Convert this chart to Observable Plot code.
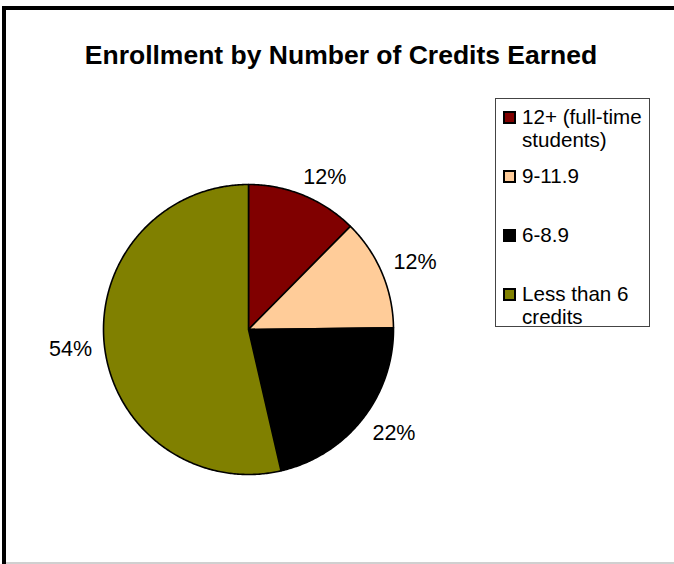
<!DOCTYPE html>
<html>
<head>
<meta charset="utf-8">
<script src="https://cdn.jsdelivr.net/npm/d3@7"></script>
<script src="https://cdn.jsdelivr.net/npm/@observablehq/plot@0.6"></script>
<style>
  html, body { margin: 0; padding: 0; background: #fff; }
  #wrap { position: relative; width: 674px; height: 564px; overflow: hidden; font-family: "Liberation Sans", Arial, sans-serif; }
  #frame { position: absolute; left: 2px; top: 6px; width: 800px; height: 800px; border-left: 4px solid #000; border-top: 4px solid #000; box-sizing: border-box; }
  #bottomline { position: absolute; left: 6px; top: 562px; width: 680px; height: 2px; background: #d0d0d0; }
  #title { position: absolute; left: 0; width: 682px; top: 40px; text-align: center; font-weight: bold; font-size: 26.5px; line-height: 30px; color: #000; }
  #legend { position: absolute; left: 495px; top: 98px; width: 155px; height: 229px; border: 1px solid #444; box-sizing: border-box; background: #fff; }
  .item { position: absolute; left: 0; width: 153px; height: 59px; }
  .sw { position: absolute; left: 7px; width: 9px; height: 9px; border: 2px solid #000; }
  .lab { position: absolute; left: 26px; top: 0; width: 127px; font-size: 20.6px; line-height: 23px; color: #000; }
  #plot { position: absolute; left: 0; top: 0; }
</style>
</head>
<body>
<div id="wrap">
  <div id="frame"></div>
  <div id="bottomline"></div>
  <div id="plot"></div>
  <div id="title"></div>
  <div id="legend"></div>
</div>
<script>
// ---- data ----
const categories = ["12+ (full-time students)", "9-11.9", "6-8.9", "Less than 6 credits"];
const shares = [12.4, 12.4, 21.6, 53.6];
const colors = ["#800000", "#FFCC99", "#000000", "#808000"];
const title = "Enrollment by Number of Credits Earned";

// ---- layout ----
const W = 674, H = 564;
const cx = 248, cy = 329, r = 145; // pie centre & radius (px)

const arcs = d3.pie().sort(null).value(d => d)(shares);

// polygon points for each slice in unit-circle coordinates
const poly = [];
arcs.forEach((a, i) => {
  const key = categories[i];
  poly.push({key, color: colors[i], x: 0, y: 0});
  const n = Math.max(8, Math.ceil((a.endAngle - a.startAngle) / 0.01));
  for (let k = 0; k <= n; k++) {
    const t = a.startAngle + (a.endAngle - a.startAngle) * k / n;
    poly.push({key, color: colors[i], x: Math.sin(t), y: Math.cos(t)});
  }
  poly.push({key, color: colors[i], x: 0, y: 0});
});

// data labels (outside end)
const clamp = v => Math.max(-1, Math.min(1, v));
const R = 157 / r, halfW = 22 / r, halfH = 7 / r;
const labels = arcs.map((a, i) => {
  const m = (a.startAngle + a.endAngle) / 2;
  const s = Math.sin(m), c = Math.cos(m);
  return {
    text: Math.round(shares[i]) + "%",
    x: R * s + halfW * clamp(2 * s),
    y: R * c + halfH * clamp(2 * c)
  };
});

const chart = Plot.plot({
  width: W,
  height: H,
  margin: 0,
  x: {domain: [-cx / r, (W - cx) / r], range: [0, W], axis: null},
  y: {domain: [cy / r, -(H - cy) / r], range: [0, H], axis: null},
  color: {type: "identity"},
  style: {background: "transparent", fontFamily: "'Liberation Sans', Arial, sans-serif"},
  marks: [
    Plot.line(poly, {x: "x", y: "y", z: "key", fill: "color", stroke: "#000", strokeWidth: 1.6, strokeLinejoin: "round", curve: "linear"}),
    Plot.text(labels, {x: "x", y: "y", text: "text", fontSize: 21.5, fill: "#000", textAnchor: "middle", lineAnchor: "middle"})
  ]
});
document.getElementById("plot").appendChild(chart);

document.getElementById("title").textContent = title;

const legend = document.getElementById("legend");
const itemTop = 6, itemStep = 59;
categories.forEach((cat, i) => {
  const it = document.createElement("div");
  it.className = "item";
  it.style.top = (itemTop + i * itemStep) + "px";
  const sw = document.createElement("div");
  sw.className = "sw";
  sw.style.top = "6px";
  sw.style.background = colors[i];
  const lab = document.createElement("div");
  lab.className = "lab";
  lab.textContent = cat;
  it.appendChild(sw);
  it.appendChild(lab);
  legend.appendChild(it);
});
</script>
</body>
</html>
